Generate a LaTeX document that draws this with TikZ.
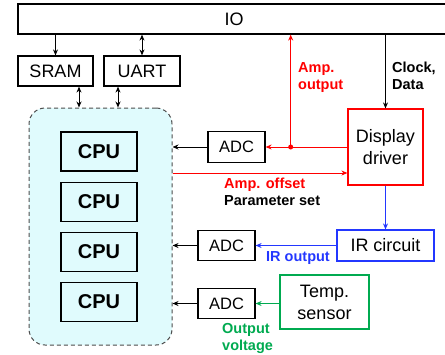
\documentclass[tikz,border=0pt]{standalone}
\usepackage{fontspec}
\setmainfont{Liberation Sans}
\usetikzlibrary{arrows.meta,positioning}
\definecolor{clusterfill}{RGB}{224,251,253}
\definecolor{sensgreen}{RGB}{0,170,80}
\definecolor{irblue}{RGB}{35,55,255}
\tikzset{
  box/.style={draw,line width=1.2pt,inner sep=0pt,align=center,font=\fontsize{18}{22}\selectfont},
  cpubox/.style={box,minimum width=76pt,minimum height=39pt,font=\fontsize{20}{22}\selectfont\bfseries},
  adcbox/.style={box,minimum width=57pt,minimum height=30.5pt,font=\fontsize{16.5}{18}\selectfont},
  lbl/.style={font=\fontsize{14.5}{17}\selectfont\bfseries,inner sep=0pt,align=left},
  conn/.style={line width=1pt,-{Stealth[length=6pt,width=5pt]}},
  dconn/.style={line width=1pt,{Stealth[length=6pt,width=5pt]}-{Stealth[length=6pt,width=5pt]}},
}
\begin{document}
\begin{tikzpicture}[x=1pt,y=-1pt]
  \useasboundingbox (0,0) rectangle (445,354);
  % top bus and memories
  \node[box,minimum width=432pt,minimum height=30pt] (io) at (234,19) {IO};
  \node[box,minimum width=75pt,minimum height=30pt] (sram) at (55.5,71) {SRAM};
  \node[box,minimum width=76pt,minimum height=30pt] (uart) at (142,71) {UART};
  % processor cluster
  \node[draw=gray!60!black,fill=clusterfill,line width=1pt,dash pattern=on 4pt off 3pt,
        rounded corners=16pt,minimum width=143pt,minimum height=237pt] (cluster) at (100.5,226.5) {};
  \foreach \i/\y in {1/151.5,2/202,3/252,4/302}
    \node[cpubox] (cpu\i) at (99,\y) {CPU};
  % converters and analog blocks
  \node[adcbox] (adc1) at (236.5,147) {ADC};
  \node[adcbox] (adc2) at (226.5,245.5) {ADC};
  \node[adcbox] (adc3) at (226.5,303.5) {ADC};
  \node[box,draw=red,minimum width=75pt,minimum height=76pt] (disp) at (385.5,147) {Display\\driver};
  \node[box,draw=irblue,minimum width=97pt,minimum height=31pt] (ir) at (385.5,245.5) {IR circuit};
  \node[box,draw=sensgreen,minimum width=89pt,minimum height=54pt] (temp) at (324.5,302) {Temp.\\sensor};
  % connectors
  \draw[conn] (io.south -| sram) -- (sram.north);
  \draw[dconn] (io.south -| uart) -- (uart.north);
  \draw[dconn] ([xshift=23.5pt]sram.south) -- ([xshift=23.5pt]sram.south |- cluster.north);
  \draw[dconn] ([xshift=-24pt]uart.south) -- ([xshift=-24pt]uart.south |- cluster.north);
  \draw[conn] (adc1.west) -- (adc1.west -| cluster.east);
  \draw[conn] (adc2.west) -- (adc2.west -| cluster.east);
  \draw[conn] (adc3.west) -- (adc3.west -| cluster.east);
  \coordinate (amp) at (290.7,147);
  \coordinate (offs) at (172,173);
  \draw[conn,red] (disp.west |- adc1) -- (adc1.east);
  \fill[red] (amp) circle (2.5pt);
  \draw[conn,red] (amp) -- (amp |- io.south);
  \draw[conn,red] (cluster.east |- offs) -- (offs -| disp.west);
  \draw[conn] (io.south -| disp.north) -- (disp.north);
  \draw[conn,irblue] (disp.south) -- (ir.north);
  \draw[conn,irblue] (ir.west) -- (ir.west -| adc2.east);
  \draw[conn,sensgreen] (temp.west |- adc3) -- (adc3.east);
  % labels
  \node[lbl,red,anchor=west] (ampout) at (298,78) {Amp.\\output};
  \node[lbl,anchor=west] (clk) at (392,76) {Clock,\\Data};
  \node[lbl,anchor=north west] (param) at (224,178) {\textcolor{red}{Amp. offset}\\Parameter set};
  \node[lbl,irblue] (irout) at (298,258) {IR output};
  \node[lbl,sensgreen,anchor=north west] (vout) at (222,323) {Output\\voltage};
\end{tikzpicture}
\end{document}
